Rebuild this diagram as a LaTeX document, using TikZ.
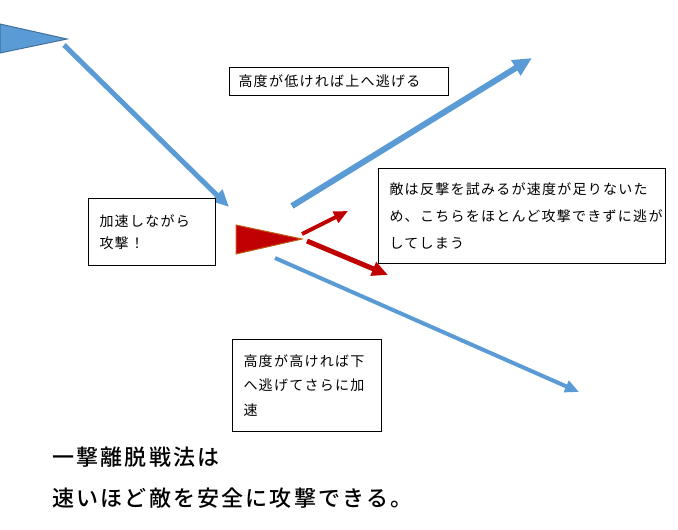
\documentclass[tikz,border=0pt]{standalone}
\usepackage{fontspec}
\setmainfont{Noto Sans CJK JP}
\newfontfamily\jpbox[LetterSpace=9]{Noto Sans CJK JP}
\newfontfamily\jpbig[LetterSpace=10]{Noto Sans CJK JP Medium}
\usetikzlibrary{arrows.meta}
\definecolor{bluefill}{HTML}{5B9BD5}
\definecolor{blueedge}{HTML}{41719C}
\definecolor{redfill}{HTML}{C00000}
\definecolor{rededge}{HTML}{C55A11}
\tikzset{
  box/.style={draw=black, line width=1pt, fill=white, anchor=north west, align=left, inner xsep=11pt, inner ysep=0pt},
  bluearrow/.style={draw=bluefill, -{Triangle[length=17pt,width=15pt]}},
  redarrow/.style={draw=redfill, -{Triangle[length=14pt,width=12pt]}},
}
\begin{document}
\begin{tikzpicture}[x=1pt,y=-1pt]
\useasboundingbox (0,0) rectangle (678,530);
% triangles
\filldraw[fill=bluefill, draw=blueedge, line width=1pt] (0,24) -- (67,39) -- (0,53) -- cycle;
\filldraw[fill=redfill, draw=rededge, line width=1pt] (236,225) -- (302,239) -- (236,254) -- cycle;
% coordinates
\coordinate (b1s) at (64,45);   \coordinate (b1e) at (229,207);
\coordinate (b2s) at (292,206); \coordinate (b2e) at (532,58);
\coordinate (b3s) at (275,258); \coordinate (b3e) at (579,392);
\coordinate (r1s) at (302,234); \coordinate (r1e) at (348,211);
\coordinate (r2s) at (307,241); \coordinate (r2e) at (388,275);
\draw[bluearrow, line width=5pt] (b1s) -- (b1e);
\draw[bluearrow, line width=6pt, -{Triangle[length=19pt,width=17pt]}] (b2s) -- (b2e);
\draw[bluearrow, line width=4pt, -{Triangle[length=14pt,width=12pt]}] (b3s) -- (b3e);
\draw[redarrow, line width=4pt] (r1s) -- (r1e);
\draw[redarrow, line width=5pt, -{Triangle[length=16pt,width=14pt]}] (r2s) -- (r2e);
% boxes
\node[box, inner xsep=9pt, minimum width=219pt, minimum height=28pt, text width=201pt,
  font={\jpbox\fontsize{14}{17}\selectfont}] (up) at (229,67)
  {高度が低ければ上へ逃げる};
\node[box, minimum width=287pt, minimum height=95pt, text width=265pt,
  font={\jpbox\fontsize{14}{27}\selectfont}] (enemy) at (378,168)
  {敵は反撃を試みるが速度が足りないた\\め、こちらをほとんど攻撃できずに逃が\\してしまう};
\node[box, minimum width=127pt, minimum height=67pt, text width=105pt,
  font={\jpbox\fontsize{14}{22}\selectfont}] (accel) at (88,198)
  {加速しながら\\攻撃！};
\node[box, minimum width=149pt, minimum height=92pt, text width=127pt,
  font={\jpbox\fontsize{14}{24.5}\selectfont}] (down) at (232,339)
  {高度が高ければ下\\へ逃げてさらに加\\速};
% bottom text
\node[anchor=west, inner sep=0pt, font={\jpbig\fontsize{22}{26}\selectfont}] (t1) at (52,457) {一撃離脱戦法は};
\node[anchor=west, inner sep=0pt, font={\jpbig\fontsize{22}{26}\selectfont}] (t2) at (52,498) {速いほど敵を安全に攻撃できる。};
\end{tikzpicture}
\end{document}
